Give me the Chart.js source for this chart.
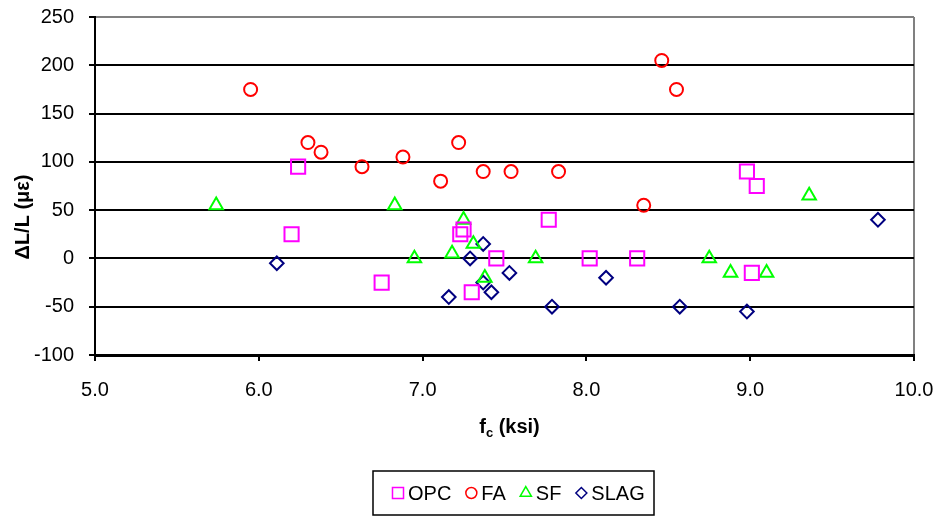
<!DOCTYPE html>
<html>
<head>
<meta charset="utf-8">
<script src="https://cdn.jsdelivr.net/npm/chart.js@4/dist/chart.umd.min.js"></script>
<style>
  html, body { margin: 0; padding: 0; background: #fff; }
  #wrap { width: 939px; height: 516px; }
</style>
</head>
<body>
<div id="wrap"><canvas id="chartShrink"></canvas></div>
<script>
// strength (ksi) vs. length change (microstrain), one series per binder
const opcX  = [6.24, 6.20, 6.75, 7.23, 7.25, 7.30, 7.45, 7.77, 8.02, 8.31, 8.98, 9.04, 9.01];
const opcY  = [95, 25, -25, 25, 30, -35, 0, 40, 0, 0, 90, 75, -15];
const faX   = [5.95, 6.30, 6.38, 6.63, 6.88, 7.11, 7.22, 7.37, 7.54, 7.83, 8.35, 8.46, 8.55];
const faY   = [175, 120, 110, 95, 105, 80, 120, 90, 90, 90, 55, 205, 175];
const sfX   = [5.74, 6.83, 6.95, 7.18, 7.25, 7.31, 7.38, 7.69, 8.75, 8.88, 9.10, 9.36];
const sfY   = [55, 55, 0, 5, 40, 15, -20, 0, 0, -15, -15, 65];
const slagX = [6.11, 7.16, 7.29, 7.37, 7.37, 7.42, 7.53, 7.79, 8.12, 8.57, 8.98, 9.78];
const slagY = [-5, -40, 0, 15, -25, -35, -15, -50, -20, -50, -55, 40];

const seriesNames = ['OPC', 'FA', 'SF', 'SLAG'];
const xTicks = [5, 6, 7, 8, 9, 10];
const yTicks = [-100, -50, 0, 50, 100, 150, 200, 250];

const FONT = '"Liberation Sans", Arial, sans-serif';

function _pts(xs, ys) {
  return xs.map((x, i) => ({ x, y: ys[i] }));
}

function _series(label, xs, ys, color, style, radius) {
  return {
    label,
    data: _pts(xs, ys),
    pointStyle: style,
    pointRadius: radius,
    pointHoverRadius: radius,
    pointBorderWidth: 2,
    pointBorderColor: color,
    pointBackgroundColor: 'rgba(0,0,0,0)',
    borderColor: color,
    backgroundColor: 'rgba(0,0,0,0)',
    showLine: false
  };
}

const datasets = [
  _series(seriesNames[0], opcX, opcY, '#ff00ff', 'rect', 10),
  _series(seriesNames[1], faX, faY, '#ff0000', 'circle', 6.5),
  _series(seriesNames[2], sfX, sfY, '#00ff00', 'triangle', 7.8),
  _series(seriesNames[3], slagX, slagY, '#000080', 'rectRot', 6.8)
];

// axis titles and boxed legend drawn by hand (subscript + frame)
const decorations = {
  id: 'decorations',
  afterDraw(chart) {
    const { ctx, chartArea } = chart;
    ctx.save();
    ctx.fillStyle = '#000';
    ctx.textBaseline = 'alphabetic';

    // x title: f_c (ksi)
    const big = 'bold 20px ' + FONT;
    const small = 'bold 13px ' + FONT;
    ctx.font = big;
    const wF = ctx.measureText('f').width;
    const wRest = ctx.measureText(' (ksi)').width;
    ctx.font = small;
    const wC = ctx.measureText('c').width;
    const total = wF + wC + wRest;
    let tx = (chartArea.left + chartArea.right) / 2 + 5 - total / 2;
    const base = 433;
    ctx.font = big;
    ctx.fillText('f', tx, base);
    tx += wF;
    ctx.font = small;
    ctx.fillText('c', tx, base + 4);
    tx += wC;
    ctx.font = big;
    ctx.fillText(' (ksi)', tx, base);

    // y title
    ctx.save();
    ctx.translate(23, 217);
    ctx.rotate(-Math.PI / 2);
    ctx.textAlign = 'center';
    ctx.textBaseline = 'middle';
    ctx.font = big;
    ctx.fillText('\u0394L/L (\u03bc\u03b5)', 0, 0);
    ctx.restore();

    // legend
    const box = { l: 373, t: 471, r: 654, b: 515 };
    ctx.lineWidth = 1.5;
    ctx.strokeStyle = '#000';
    ctx.strokeRect(box.l, box.t, box.r - box.l, box.b - box.t);
    const legR = { rect: 7.8, circle: 5.5, triangle: 6.5, rectRot: 5.5 };
    const cy = (box.t + box.b) / 2;
    let x = box.l + 25;
    ctx.font = '20px ' + FONT;
    ctx.textBaseline = 'middle';
    chart.data.datasets.forEach(ds => {
      ctx.strokeStyle = ds.pointBorderColor;
      ctx.fillStyle = 'rgba(0,0,0,0)';
      Chart.helpers.drawPoint(ctx, {
        pointStyle: ds.pointStyle,
        radius: legR[ds.pointStyle],
        rotation: 0,
        borderWidth: 2
      }, x, cy);
      ctx.fillStyle = '#000';
      ctx.fillText(ds.label, x + 10, cy + 1);
      x += 10 + ctx.measureText(ds.label).width + 20;
    });
    ctx.restore();
  }
};

new Chart(document.getElementById('chartShrink').getContext('2d'), {
  type: 'scatter',
  data: { datasets },
  options: {
    responsive: true,
    maintainAspectRatio: false,
    animation: false,
    events: [],
    layout: { padding: { top: 17, right: 25, left: 0, bottom: 0 } },
    plugins: {
      legend: { display: false },
      tooltip: { enabled: false }
    },
    scales: {
      x: {
        type: 'linear',
        min: xTicks[0],
        max: xTicks[xTicks.length - 1],
        afterBuildTicks: s => { s.ticks = xTicks.map(v => ({ value: v })); },
        afterFit: s => {
          s.height = 161;
          s.paddingLeft = 0;
          s.paddingRight = 0;
        },
        ticks: {
          color: '#000',
          font: { family: FONT, size: 20 },
          padding: 17,
          maxRotation: 0,
          callback: v => Number(v).toFixed(1)
        },
        grid: {
          color: c => (c.tick && c.tick.value === 10 ? '#808080' : 'rgba(0,0,0,0)'),
          lineWidth: 2,
          tickColor: '#000',
          tickLength: 6
        },
        border: { color: '#000', width: 3 }
      },
      y: {
        type: 'linear',
        min: yTicks[0],
        max: yTicks[yTicks.length - 1],
        afterBuildTicks: s => { s.ticks = yTicks.map(v => ({ value: v })); },
        afterFit: s => {
          s.width = 95;
          s.paddingTop = 0;
          s.paddingBottom = 0;
        },
        ticks: {
          color: '#000',
          font: { family: FONT, size: 20 },
          padding: 15
        },
        grid: {
          color: c => (c.tick && c.tick.value === 250 ? '#808080' : '#000'),
          lineWidth: 2,
          tickColor: '#000',
          tickLength: 6
        },
        border: { color: '#000', width: 2 }
      }
    }
  },
  plugins: [decorations]
});
</script>
</body>
</html>
